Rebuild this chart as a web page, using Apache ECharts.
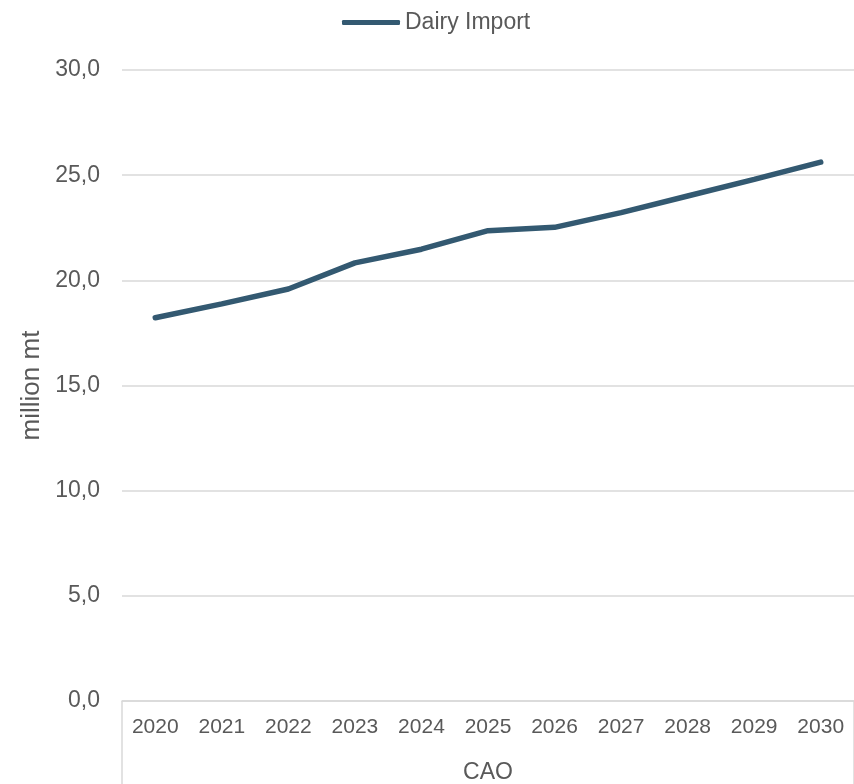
<!DOCTYPE html>
<html>
<head>
<meta charset="utf-8">
<script src="https://cdn.jsdelivr.net/npm/echarts@6/dist/echarts.min.js"></script>
<style>
  html, body { margin: 0; padding: 0; background: #fff; }
  #main { width: 854px; height: 784px; }
</style>
</head>
<body>
<div id="main"></div>
<script>
var years = ['2020', '2021', '2022', '2023', '2024', '2025', '2026', '2027', '2028', '2029', '2030'];
var groups = ['CAO'];
var dairyImport = [18.22, 18.88, 19.59, 20.83, 21.48, 22.36, 22.52, 23.22, 24.01, 24.80, 25.62];

var myChart = echarts.init(document.getElementById('main'));

var textColor = '#595959';
var lineColor = '#D9D9D9';
var seriesColor = '#335971';

var option = {
    textStyle: { fontFamily: 'Liberation Sans, Arial, sans-serif' },
    legend: {
        top: 6,
        left: 337,
        icon: 'roundRect',
        itemWidth: 58,
        itemHeight: 5,
        textStyle: { fontSize: 23, color: textColor },
        data: ['Dairy Import']
    },
    grid: { left: 122, right: 0, top: 70, bottom: 83 },
    xAxis: [
        {
            type: 'category',
            data: years,
            boundaryGap: true,
            axisLine: { show: true, lineStyle: { color: lineColor, width: 1.5 } },
            axisTick: { show: false },
            axisLabel: { fontSize: 21, color: textColor, margin: 16, interval: 0 }
        },
        {
            type: 'category',
            data: groups,
            position: 'bottom',
            boundaryGap: true,
            axisLine: { show: false },
            axisTick: { show: true, length: 83, lineStyle: { color: lineColor, width: 1.5 } },
            axisLabel: { fontSize: 23, color: textColor, margin: 60 }
        }
    ],
    yAxis: {
        type: 'value',
        min: 0,
        max: 30,
        interval: 5,
        name: 'million mt',
        nameLocation: 'middle',
        nameRotate: 90,
        nameGap: 75,
        nameTextStyle: { fontSize: 26, color: textColor },
        axisLine: { show: false },
        axisTick: { show: false },
        axisLabel: {
            fontSize: 23,
            color: textColor,
            margin: 22,
            formatter: function (v) { return v.toFixed(1).replace('.', ','); }
        },
        splitLine: { lineStyle: { color: lineColor, width: 1.5 } }
    },
    series: [
        {
            name: 'Dairy Import',
            type: 'line',
            data: dairyImport,
            showSymbol: false,
            symbol: 'none',
            lineStyle: { color: seriesColor, width: 5.5, cap: 'round' },
            itemStyle: { color: seriesColor }
        }
    ]
};

myChart.setOption(option);
</script>
</body>
</html>
